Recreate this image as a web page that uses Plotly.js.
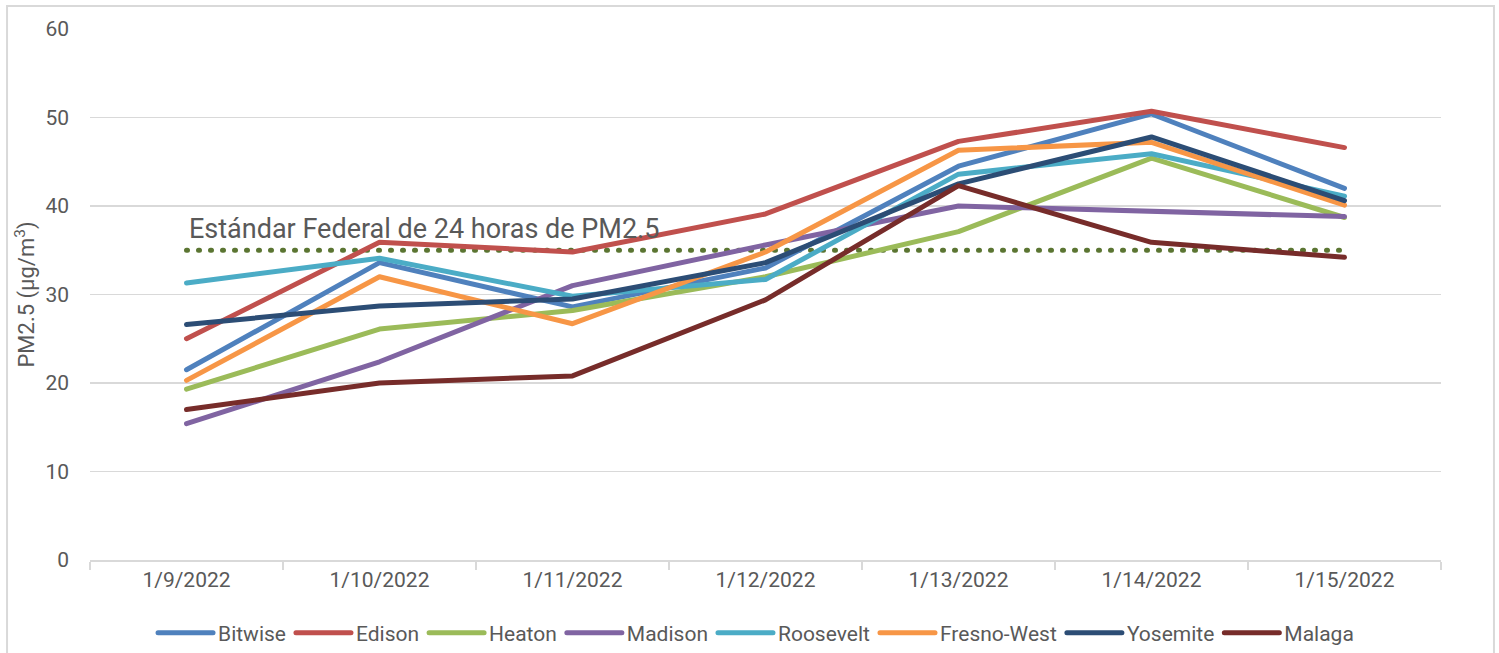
<!DOCTYPE html>
<html>
<head>
<meta charset="utf-8">
<script src="https://cdn.plot.ly/plotly-3.0.1.min.js"></script>
<style>
html,body{margin:0;padding:0;background:#fff;}
#chart{width:1499px;height:653px;}
.scatterlayer path.js-line{stroke-linecap:round;stroke-linejoin:round;}
.legend path.js-line{stroke-linecap:round;}
</style>
</head>
<body>
<div id="chart"></div>
<script>
const dates = ["1/9/2022","1/10/2022","1/11/2022","1/12/2022","1/13/2022","1/14/2022","1/15/2022"];
const bitwise    = [21.5, 33.6, 28.6, 33.0, 44.5, 50.4, 42.0];
const edison     = [25.0, 35.9, 34.8, 39.1, 47.3, 50.7, 46.6];
const heaton     = [19.3, 26.1, 28.2, 32.0, 37.1, 45.4, 38.7];
const madison    = [15.4, 22.4, 31.0, 35.6, 40.0, 39.4, 38.8];
const roosevelt  = [31.3, 34.1, 29.8, 31.7, 43.6, 45.9, 41.1];
const fresnoWest = [20.3, 32.0, 26.7, 34.8, 46.3, 47.2, 40.1];
const yosemite   = [26.6, 28.7, 29.5, 33.6, 42.5, 47.8, 40.6];
const malaga     = [17.0, 20.0, 20.8, 29.4, 42.3, 35.9, 34.2];
const standardValue = 35;
const standardLabel = "Estándar Federal de 24 horas de PM2.5";
const yTicks = [0, 10, 20, 30, 40, 50, 60];

const seriesNames  = ["Bitwise","Edison","Heaton","Madison","Roosevelt","Fresno-West","Yosemite","Malaga"];
const seriesValues = [bitwise, edison, heaton, madison, roosevelt, fresnoWest, yosemite, malaga];
const seriesColors = ["#4F81BD","#C0504D","#9BBB59","#8064A2","#4BACC6","#F79646","#2C4D75","#772C2A"];

const FONT = "Roboto, 'Open Sans', sans-serif";
const TXT = "#595959";

const traces = [];
traces.push({
  x: dates, y: dates.map(() => standardValue),
  type: "scatter", mode: "lines", showlegend: false, hoverinfo: "skip",
  line: {color: "#5B7532", width: 5, dash: "1px,11px"}
});
seriesNames.forEach((n, i) => {
  traces.push({
    x: dates, y: seriesValues[i], name: n,
    type: "scatter", mode: "lines",
    line: {color: seriesColors[i], width: 5}
  });
});

const layout = {
  width: 1499, height: 653,
  paper_bgcolor: "#fff", plot_bgcolor: "#fff",
  margin: {l: 90, r: 58, t: 29, b: 93, autoexpand: false},
  font: {family: FONT, color: TXT, size: 21},
  showlegend: true,
  legend: {
    orientation: "h", x: 0.493, xanchor: "center",
    yref: "container", y: 0.062, yanchor: "top",
    font: {family: FONT, size: 21, color: TXT},
    itemwidth: 55, tracegroupgap: 0
  },
  xaxis: {
    type: "category", range: [-0.5, 6.5],
    showgrid: false, zeroline: false,
    showline: true, linecolor: "#D9D9D9", linewidth: 1.5,
    ticks: "outside", tickson: "boundaries", ticklen: 8, tickcolor: "#D9D9D9", tickwidth: 1.5,
    tickfont: {family: FONT, size: 21, color: TXT},
    fixedrange: true
  },
  yaxis: {
    range: [0, 60], tickvals: yTicks, ticktext: yTicks.map(String),
    showgrid: true, gridcolor: "#D9D9D9", gridwidth: 1.5,
    zeroline: false, showline: false, ticks: "",
    ticklabelstandoff: 20,
    tickfont: {family: FONT, size: 21, color: TXT},
    title: {text: "PM2.5 (µg/m<sup>3</sup>)", font: {family: FONT, size: 22, color: TXT}, standoff: 4},
    fixedrange: true
  },
  annotations: [{
    x: 0, y: standardValue, xref: "x", yref: "y",
    xanchor: "left", yanchor: "bottom", xshift: 0, yshift: 3,
    text: standardLabel, showarrow: false,
    font: {family: FONT, size: 27, color: TXT}
  }],
  shapes: [{
    type: "rect", xref: "paper", yref: "paper",
    x0: -0.0614, x1: 1.0392, y0: -0.25, y1: 1.0433,
    line: {color: "#D9D9D9", width: 2}, fillcolor: "rgba(0,0,0,0)", layer: "below"
  }]
};

Plotly.newPlot("chart", traces, layout, {displayModeBar: false, staticPlot: true});
</script>
</body>
</html>
